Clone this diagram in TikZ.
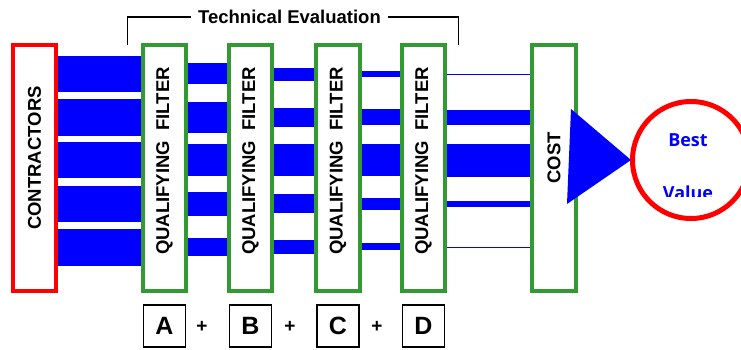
\documentclass[tikz,border=0pt]{standalone}
\usepackage{fontspec}
\setmainfont{Liberation Sans}
\newfontfamily\valuefont{Open Sans}
\definecolor{filtergreen}{RGB}{51,153,51}
\definecolor{bandblue}{RGB}{0,0,255}
\newcommand{\FilterText}{\raisebox{-2pt}{\hspace*{14pt}QUALIFYING\hspace{0.56em}FILTER}}

\begin{document}
\begin{tikzpicture}[x=1pt,y=-1pt,
        box/.style={draw,line width=4pt,minimum width=43.5pt,minimum height=246pt,
            inner sep=0pt,font=\bfseries\fontsize{18.5}{20}\selectfont},
        letterbox/.style={draw,line width=1.5pt,minimum width=42pt,minimum height=42pt,
            inner sep=0pt,font=\bfseries\fontsize{25}{28}\selectfont},
        band/.style={fill=bandblue},
        valuetext/.style={text=bandblue,font=\valuefont\bfseries\fontsize{18}{20}\selectfont,anchor=base}]
    \useasboundingbox (0,0) rectangle (741,349);

    % the boxes
    \node[box,draw=red] (con) at (34.5,168)
        {\rotatebox{90}{\raisebox{-2pt}{\hspace*{20pt}CONTRACTORS}}};
    \foreach \n/\x in {fa/164.5,fb/250.5,fc/338,fd/423.5}
        \node[box,draw=filtergreen] (\n) at (\x,168) {\rotatebox{90}{\FilterText}};
    \node[box,draw=filtergreen] (cost) at (554,168)
        {\rotatebox{90}{\hspace*{20pt}COST}};

    % bands between the boxes
    \foreach \l/\r/\ya/\yb in {con/fa/56/92,con/fa/99/136,con/fa/142/178,con/fa/186/222,con/fa/229/266,
                               fa/fb/63/84,fa/fb/102/133,fa/fb/144/176,fa/fb/192/216,fa/fb/238/256,
                               fb/fc/68/81,fb/fc/108/127,fb/fc/144/176,fb/fc/194/213,fb/fc/240/254,
                               fc/fd/71/77,fc/fd/109/125,fc/fd/144/176,fc/fd/198/210,fc/fd/243/250,
                               fd/cost/73.5/74.5,fd/cost/110/125,fd/cost/144/177,fd/cost/201/207,fd/cost/246.5/247.5}
        \fill[band] (\l.east |- 0,\ya) rectangle (\r.west |- 0,\yb);

    % technical evaluation bracket
    \node[inner sep=7pt,font=\bfseries\fontsize{18.5}{20}\selectfont] (te) at (289.5,17)
        {Technical Evaluation};
    \draw[line width=1.2pt] (te.west) -| ([xshift=-13pt,yshift=-2pt]fa.north west);
    \draw[line width=1.2pt] (te.east) -| ([xshift=11pt,yshift=-2pt]fd.north east);

    % letters under the filters
    \node[letterbox] (la) at (fa |- 0,326) {A};
    \node[letterbox] (lb) at (fb |- 0,326) {B};
    \node[letterbox] (lc) at (fc |- 0,326) {C};
    \node[letterbox] (ld) at (fd |- 0,326) {D};
    \foreach \x [count=\i] in {202,290,377}
        \node[font=\bfseries\fontsize{19}{20}\selectfont] (plus\i) at (\x,327) {+};

    % cost arrow and result
    \fill[bandblue] (571,109) -- (631,160) -- (567,204) -- cycle;
    \node[circle,draw=red,line width=5pt,minimum size=117pt,inner sep=0pt] (bv) at (691,160) {};
    \node[valuetext] (best) at (688,146) {Best};
    \begin{scope}
        \clip (600,150) rectangle (741,196);
        \node[valuetext] (value) at (688,199) {Value};
    \end{scope}
\end{tikzpicture}
\end{document}
